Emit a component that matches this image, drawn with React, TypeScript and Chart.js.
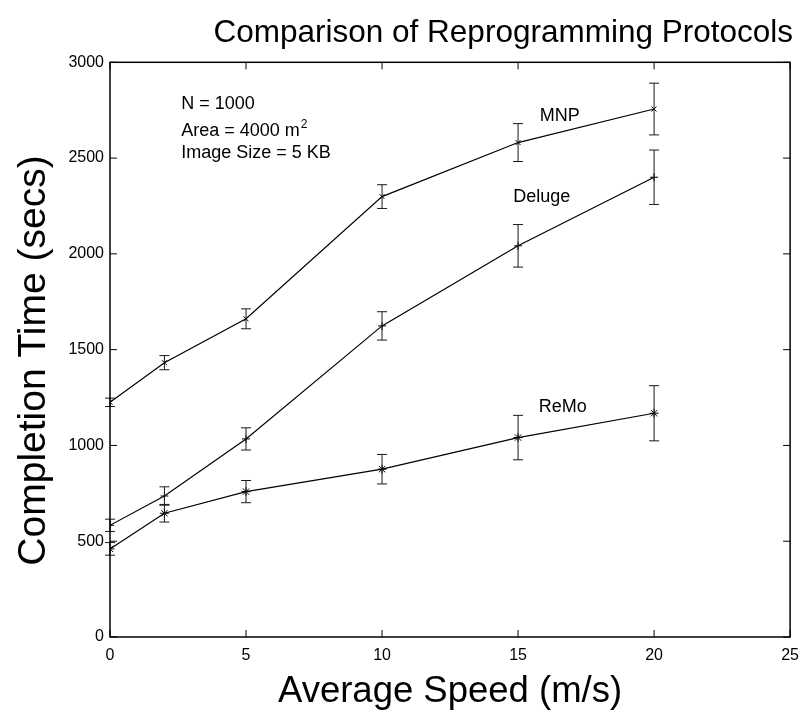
import React, { useEffect, useRef } from "react";
import { Chart, registerables } from "chart.js";

Chart.register(...registerables);

// ---- data ----
const speeds = [0, 2, 5, 10, 15, 20];
const mnpTimes = [1225, 1432, 1661, 2299, 2581, 2756];
const mnpErr = [22, 37, 52, 62, 99, 135];
const delugeTimes = [583, 736, 1034, 1624, 2042, 2400];
const delugeErr = [32, 48, 58, 74, 111, 142];
const remoTimes = [460, 646, 759, 876, 1041, 1168];
const remoErr = [33, 46, 58, 77, 116, 144];
const seriesNames = ["MNP", "Deluge", "ReMo"];
const infoLines = ["N = 1000", "Area = 4000 m", "Image Size = 5 KB"];
const infoSuperscript = "2";
const titleText = "Comparison of Reprogramming Protocols";
const xTitle = "Average Speed (m/s)";
const yTitle = "Completion Time (secs)";

const FONT = "'Liberation Sans', Arial, Helvetica, sans-serif";

const errorBarPlugin = {
  id: "errorBars",
  afterDatasetsDraw(chart: any) {
    const { ctx } = chart;
    const xs = chart.scales.x;
    const ys = chart.scales.y;
    ctx.save();
    ctx.strokeStyle = "#1a1a1a";
    ctx.lineWidth = 1;
    chart.data.datasets.forEach((ds: any) => {
      const errs: number[] = ds.errors || [];
      ds.data.forEach((pt: any, i: number) => {
        const e = errs[i] || 0;
        const px = xs.getPixelForValue(pt.x);
        const top = ys.getPixelForValue(pt.y + e);
        const bot = ys.getPixelForValue(pt.y - e);
        ctx.beginPath();
        ctx.moveTo(px, top);
        ctx.lineTo(px, bot);
        ctx.moveTo(px - 5, top);
        ctx.lineTo(px + 5, top);
        ctx.moveTo(px - 5, bot);
        ctx.lineTo(px + 5, bot);
        ctx.stroke();
      });
    });
    ctx.restore();
  },
};

const boxPlugin = {
  id: "matlabBox",
  afterDraw(chart: any) {
    const { ctx, chartArea: a } = chart;
    const xs = chart.scales.x;
    const ys = chart.scales.y;
    const len = 7;
    ctx.save();
    ctx.strokeStyle = "#000";
    ctx.lineWidth = 1;
    ctx.beginPath();
    xs.ticks.forEach((t: any) => {
      const px = xs.getPixelForValue(t.value);
      ctx.moveTo(px, a.bottom);
      ctx.lineTo(px, a.bottom - len);
      ctx.moveTo(px, a.top);
      ctx.lineTo(px, a.top + len);
    });
    ys.ticks.forEach((t: any) => {
      const py = ys.getPixelForValue(t.value);
      ctx.moveTo(a.left, py);
      ctx.lineTo(a.left + len, py);
      ctx.moveTo(a.right, py);
      ctx.lineTo(a.right - len, py);
    });
    ctx.stroke();
    ctx.lineWidth = 1.5;
    ctx.strokeRect(a.left, a.top, a.right - a.left, a.bottom - a.top);
    ctx.restore();
  },
};

const annotationPlugin = {
  id: "annotations",
  afterDraw(chart: any) {
    const { ctx } = chart;
    const xs = chart.scales.x;
    const ys = chart.scales.y;
    ctx.save();
    ctx.fillStyle = "#000";
    ctx.textAlign = "left";
    ctx.textBaseline = "alphabetic";
    // info block
    const infoX = xs.getPixelForValue(2.62);
    const infoY = [2755, 2616, 2501];
    infoLines.forEach((line, i) => {
      const py = ys.getPixelForValue(infoY[i]);
      ctx.font = `18px ${FONT}`;
      ctx.fillText(line, infoX, py);
      if (i === 1) {
        const w = ctx.measureText(line).width;
        ctx.font = `12px ${FONT}`;
        ctx.fillText(infoSuperscript, infoX + w + 1, py - 8);
      }
    });
    // series labels
    ctx.font = `18px ${FONT}`;
    const labelPos = [
      [15.8, 2691],
      [14.82, 2273],
      [15.76, 1176],
    ];
    seriesNames.forEach((name, i) => {
      ctx.fillText(
        name,
        xs.getPixelForValue(labelPos[i][0]),
        ys.getPixelForValue(labelPos[i][1])
      );
    });
    ctx.restore();
  },
};

function toPoints(vals: number[]) {
  return speeds.map((s, i) => ({ x: s, y: vals[i] }));
}

export default function App() {
  const ref = useRef<HTMLCanvasElement | null>(null);

  useEffect(() => {
    if (!ref.current) return;
    const common = {
      borderColor: "#000",
      borderWidth: 1.2,
      pointBorderColor: "#000",
      pointBackgroundColor: "rgba(0,0,0,0)",
      pointBorderWidth: 1,
      tension: 0,
      showLine: true,
      fill: false,
    };
    const chart = new Chart(ref.current, {
      type: "scatter",
      data: {
        datasets: [
          { ...common, label: seriesNames[0], data: toPoints(mnpTimes), errors: mnpErr, pointStyle: "crossRot", pointRadius: 3.5 } as any,
          { ...common, label: seriesNames[1], data: toPoints(delugeTimes), errors: delugeErr, pointStyle: "cross", pointRadius: 4 } as any,
          { ...common, label: seriesNames[2], data: toPoints(remoTimes), errors: remoErr, pointStyle: "star", pointRadius: 4.5 } as any,
        ],
      },
      options: {
        responsive: false,
        animation: false,
        layout: { padding: { left: 0, right: 15, top: 0, bottom: 0 } },
        plugins: {
          legend: { display: false },
          tooltip: { enabled: false },
          title: {
            display: true,
            text: titleText,
            align: "end",
            color: "#000",
            font: { family: FONT, size: 31.5, weight: "normal", lineHeight: 1.2 },
            padding: { top: 14, bottom: 10.5 },
          },
        },
        scales: {
          x: {
            type: "linear",
            min: 0,
            max: 25,
            ticks: {
              stepSize: 5,
              color: "#000",
              font: { family: FONT, size: 16 },
              padding: 9,
              maxRotation: 0,
              callback: (v: any) => String(v),
            },
            grid: { display: false, drawTicks: false },
            border: { display: false },
            title: {
              display: true,
              text: xTitle,
              color: "#000",
              font: { family: FONT, size: 36.5, lineHeight: 1 },
              padding: { top: 0, bottom: 7 },
            },
            afterFit(scale: any) {
              scale.height = 80;
            },
          },
          y: {
            type: "linear",
            min: 0,
            max: 3000,
            ticks: {
              stepSize: 500,
              color: "#000",
              font: { family: FONT, size: 16 },
              padding: 6,
              callback: (v: any) => String(v),
            },
            grid: { display: false, drawTicks: false },
            border: { display: false },
            title: {
              display: true,
              text: yTitle + "  ",
              color: "#000",
              font: { family: FONT, size: 39, lineHeight: 1 },
              padding: { top: 15, bottom: 0 },
            },
            afterFit(scale: any) {
              scale.width = 110;
            },
          },
        },
      } as any,
      plugins: [errorBarPlugin, boxPlugin, annotationPlugin],
    });
    return () => chart.destroy();
  }, []);

  return (
    <div style={{ position: "absolute", left: 0, top: 0, width: 808, height: 717, background: "#fff" }}>
      <canvas ref={ref} width={808} height={717} />
    </div>
  );
}
